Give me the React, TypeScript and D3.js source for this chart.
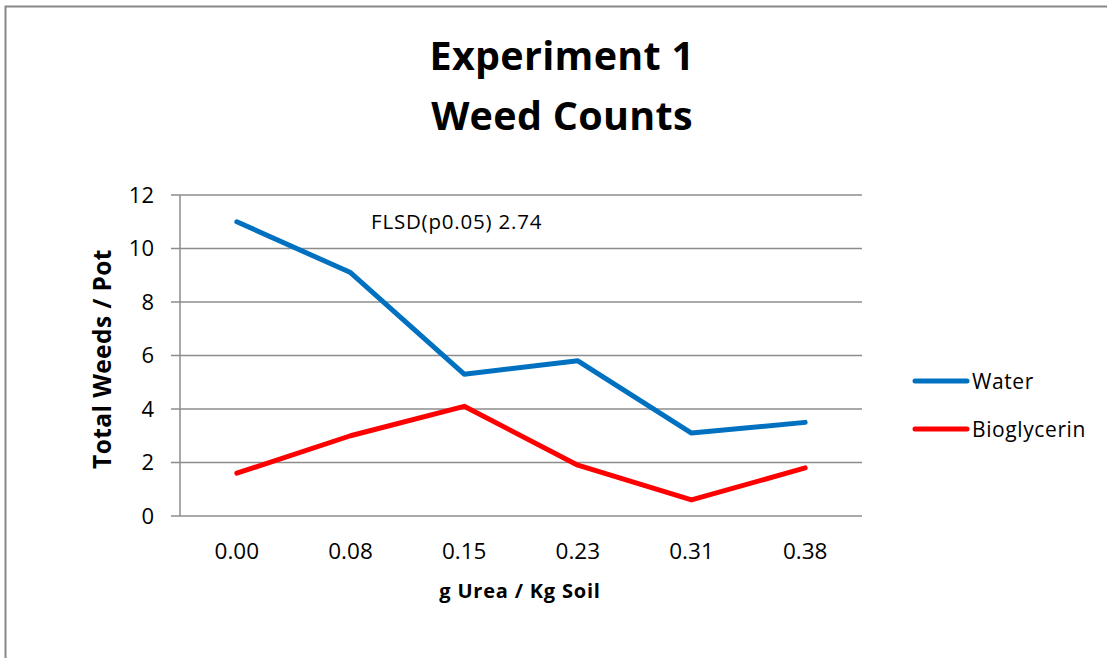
import React from "react";
import * as d3 from "d3";

const categories = ["0.00", "0.08", "0.15", "0.23", "0.31", "0.38"];
const waterValues = [11.0, 9.1, 5.3, 5.8, 3.1, 3.5];
const bioglycerinValues = [1.6, 3.0, 4.1, 1.9, 0.6, 1.8];
const yTicks = [0, 2, 4, 6, 8, 10, 12];
const seriesNames = ["Water", "Bioglycerin"];
const seriesColors = ["#0070C0", "#FF0000"];

const W = 1107;
const H = 658;
const FONT = "'Open Sans', sans-serif";

export default function App() {
  const left = 180;
  const right = 862;
  const top = 195;
  const bottom = 516;
  const x = d3.scaleBand<string>().domain(categories).range([left, right]);
  const y = d3.scaleLinear().domain([0, 12]).range([bottom, top]);
  const line = d3
    .line<number>()
    .x((_, i) => (x(categories[i]) as number) + x.bandwidth() / 2)
    .y((d) => y(d));
  const series = [waterValues, bioglycerinValues];

  return (
    <svg
      width={W}
      height={H}
      style={{ position: "absolute", left: 0, top: 0, display: "block" }}
    >
      <rect x={0} y={0} width={W} height={H} fill="#fff" />
      <path d={`M5.5,${H} L5.5,6.5 L${W},6.5`} fill="none" stroke="#888" strokeWidth={2} />
      <text x={562} y={70} textAnchor="middle" fontFamily={FONT} fontWeight="bold" fontSize={39.5} letterSpacing={0.3}>
        Experiment 1
      </text>
      <text x={562} y={130} textAnchor="middle" fontFamily={FONT} fontWeight="bold" fontSize={39.5} letterSpacing={0.3}>
        Weed Counts
      </text>
      {yTicks.map((t) => (
        <g key={t}>
          <line x1={171} x2={right} y1={y(t)} y2={y(t)} stroke="#8c8c8c" strokeWidth={1.5} />
          <text
            x={154}
            y={y(t)}
            dy="0.36em"
            textAnchor="end"
            fontFamily={FONT}
            fontSize={22}
          >
            {t}
          </text>
        </g>
      ))}
      <line x1={left} x2={left} y1={top} y2={bottom} stroke="#8c8c8c" strokeWidth={1.5} />
      {categories.map((c) => (
        <text
          key={c}
          x={(x(c) as number) + x.bandwidth() / 2}
          y={559}
          textAnchor="middle"
          fontFamily={FONT}
          fontSize={22.5}
        >
          {c}
        </text>
      ))}
      <text x={520} y={598} textAnchor="middle" fontFamily={FONT} fontWeight="bold" fontSize={20} letterSpacing={0.8}>
        g Urea / Kg Soil
      </text>
      <text
        transform={`translate(111,359) rotate(-90)`}
        textAnchor="middle"
        fontFamily={FONT}
        fontWeight="bold"
        fontSize={24.5}
        letterSpacing={0.4}
      >
        Total Weeds / Pot
      </text>
      <text x={371} y={229} fontFamily={FONT} fontSize={20.5} letterSpacing={0.8}>
        FLSD(p0.05) 2.74
      </text>
      {series.map((s, i) => (
        <path
          key={i}
          d={line(s) as string}
          fill="none"
          stroke={seriesColors[i]}
          strokeWidth={5}
          strokeLinejoin="round"
          strokeLinecap="round"
        />
      ))}
      {seriesNames.map((n, i) => (
        <g key={n}>
          <line
            x1={915}
            x2={967}
            y1={381 + i * 48}
            y2={381 + i * 48}
            stroke={seriesColors[i]}
            strokeWidth={5}
            strokeLinecap="round"
          />
          <text x={972} y={389 + i * 48} fontFamily={FONT} fontSize={21} letterSpacing={0.6}>
            {n}
          </text>
        </g>
      ))}
    </svg>
  );
}
